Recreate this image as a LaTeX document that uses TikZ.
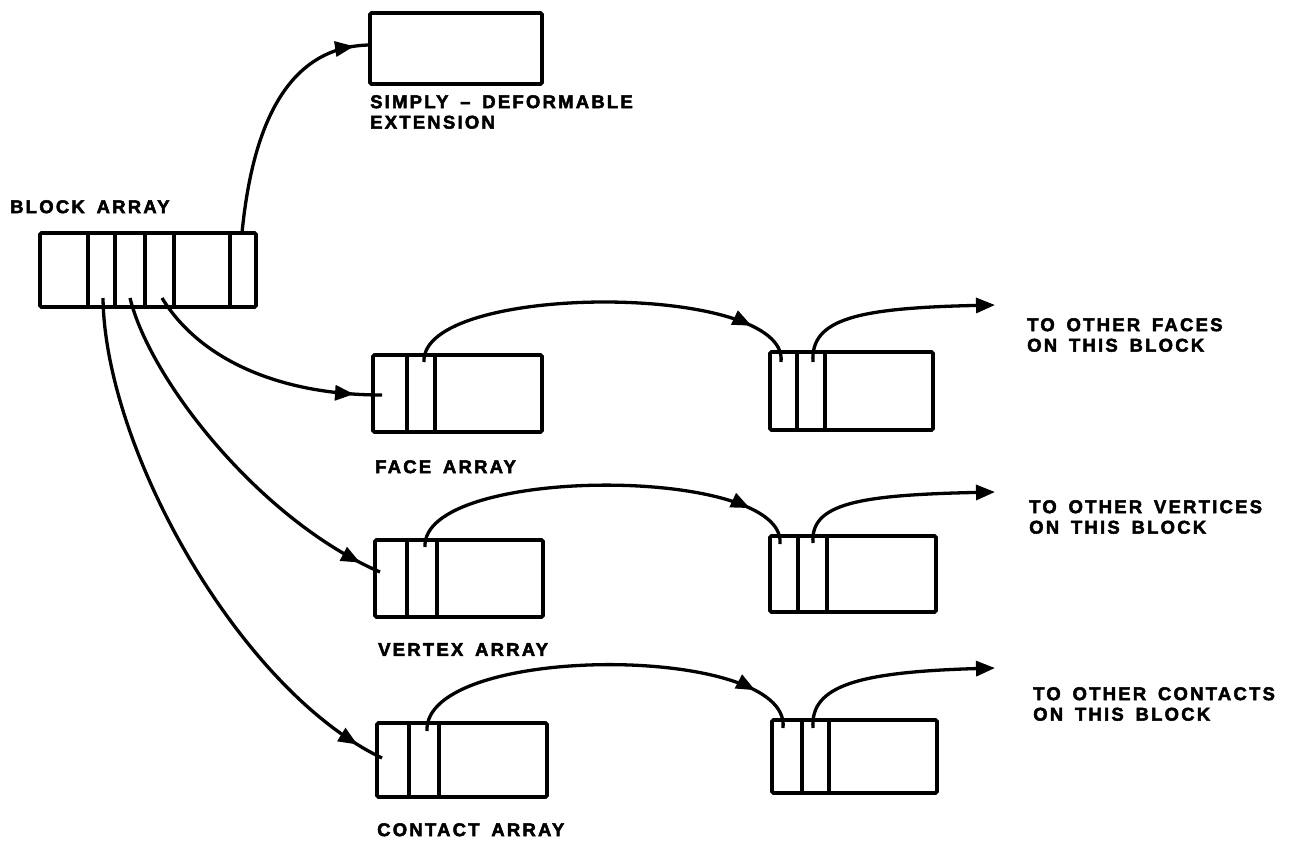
\documentclass[tikz,border=0pt]{standalone}
\usepackage{fontspec}
\newfontfamily\lblfont{Liberation Sans Bold}[LetterSpace=12,WordSpace=1.6,FakeBold=2.6]
\usetikzlibrary{arrows.meta,decorations.markings,calc}
\tikzset{
  box/.style={draw, line width=3.8pt, rounded corners=1.5pt, inner sep=0pt, outer sep=0pt, anchor=north west},
  divider/.style={line width=3.6pt},
  link/.style={line width=3.3pt},
  midarrow/.style={decoration={markings, mark=at position #1 with {\arrow{Triangle[length=19pt,width=15pt]}}}, postaction={decorate}},
  endarrow/.style={-{Triangle[length=19pt,width=15pt]}},
  lbl/.style={font=\lblfont\fontsize{18.5}{20.5}\selectfont, anchor=north west, inner sep=0pt, align=left},
}
\begin{document}
\begin{tikzpicture}[x=1pt,y=-1pt]
\useasboundingbox (0,0) rectangle (1292,841);

% boxes
\node[box, minimum width=172pt, minimum height=71pt] (ext) at (370,13) {};
\node[box, minimum width=216pt, minimum height=74pt] (blk) at (40,233) {};
\node[box, minimum width=169pt, minimum height=77pt] (fa1) at (373,355) {};
\node[box, minimum width=163pt, minimum height=78pt] (fa2) at (770,352) {};
\node[box, minimum width=168pt, minimum height=77pt] (va1) at (375,540) {};
\node[box, minimum width=166pt, minimum height=76pt] (va2) at (770,536) {};
\node[box, minimum width=170pt, minimum height=74pt] (ca1) at (377,723) {};
\node[box, minimum width=165pt, minimum height=73pt] (ca2) at (772,720) {};

% cell dividers
\foreach \d in {48,75,105,134,190} \draw[divider] ($(blk.north west)+(\d,0)$) -- ($(blk.south west)+(\d,0)$);
\foreach \d in {34,62} \draw[divider] ($(fa1.north west)+(\d,0)$) -- ($(fa1.south west)+(\d,0)$);
\foreach \d in {27,55} \draw[divider] ($(fa2.north west)+(\d,0)$) -- ($(fa2.south west)+(\d,0)$);
\foreach \d in {32,62} \draw[divider] ($(va1.north west)+(\d,0)$) -- ($(va1.south west)+(\d,0)$);
\foreach \d in {28,57} \draw[divider] ($(va2.north west)+(\d,0)$) -- ($(va2.south west)+(\d,0)$);
\foreach \d in {32,62} \draw[divider] ($(ca1.north west)+(\d,0)$) -- ($(ca1.south west)+(\d,0)$);
\foreach \d in {30,57} \draw[divider] ($(ca2.north west)+(\d,0)$) -- ($(ca2.south west)+(\d,0)$);

% free ends
\coordinate (fout) at (995,305);
\coordinate (vout) at (995,492);
\coordinate (cout) at (995,668);

% block array pointers
\draw[link, midarrow=-16pt] ($(blk.north west)+(202,0)$) .. controls (252,130) and (285,46) .. ($(ext.north west)+(0,32)$);
\draw[link, midarrow=-28pt] ($(blk.north west)+(122,65)$) .. controls (200,360) and (280,395) .. ($(fa1.north west)+(9,40)$);
\draw[link, midarrow=-22pt] ($(blk.north west)+(90,65)$) .. controls (150,380) and (260,520) .. ($(va1.north west)+(5,32)$);
\draw[link, midarrow=-28pt] ($(blk.north west)+(63,65)$) .. controls (105,450) and (240,690) .. ($(ca1.north west)+(5,35)$);

% face chain
\draw[link, midarrow=-50pt] ($(fa1.north west)+(51,7)$) .. controls (420,282) and (790,282) .. ($(fa2.north west)+(11,10)$);
\draw[link, endarrow] ($(fa2.north west)+(43,10)$) .. controls (810,318) and (860,308) .. (fout);

% vertex chain
\draw[link, midarrow=-50pt] ($(va1.north west)+(50,7)$) .. controls (421,465) and (787,465) .. ($(va2.north west)+(10,8)$);
\draw[link, endarrow] ($(va2.north west)+(43,7)$) .. controls (810,503) and (860,495) .. (vout);

% contact chain
\draw[link, midarrow=-50pt] ($(ca1.north west)+(50,8)$) .. controls (423,643) and (792,643) .. ($(ca2.north west)+(11,8)$);
\draw[link, endarrow] ($(ca2.north west)+(41,8)$) .. controls (810,685) and (860,672) .. (cout);

% labels
\node[lbl] (lext) at (370,95) {SIMPLY – DEFORMABLE\\EXTENSION};
\node[lbl] (lblk) at (10,200) {BLOCK ARRAY};
\node[lbl] (lfa) at (375,460) {FACE ARRAY};
\node[lbl] (lva) at (378,643) {VERTEX ARRAY};
\node[lbl] (lca) at (377,823) {CONTACT ARRAY};
\node[lbl] (lf) at (1027,318) {TO OTHER FACES\\ON THIS BLOCK};
\node[lbl] (lv) at (1029,500) {TO OTHER VERTICES\\ON THIS BLOCK};
\node[lbl] (lc) at (1033,687) {TO OTHER CONTACTS\\ON THIS BLOCK};
\end{tikzpicture}
\end{document}
